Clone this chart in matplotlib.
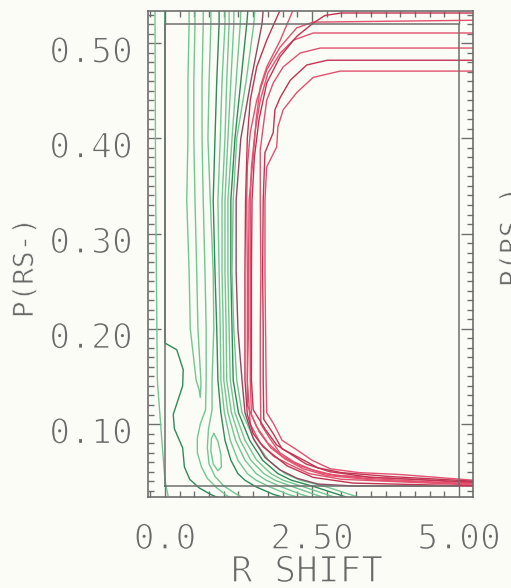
import matplotlib
matplotlib.use("Agg")
import matplotlib.pyplot as plt
import matplotlib.patheffects as pe
from matplotlib.ticker import MultipleLocator, FixedLocator
from matplotlib.transforms import ScaledTranslation

# axis ticks and labels
x_ticks = [0.0, 2.5, 5.0]
x_tick_labels = ["0.0", "2.50", "5.00"]
y_ticks = [0.10, 0.20, 0.30, 0.40, 0.50]
y_tick_labels = ["0.10", "0.20", "0.30", "0.40", "0.50"]

# data window (inner box)
x_min, x_max = 0.0, 5.0
y_min, y_max = 0.035, 0.52

# green contours, upper (nearly vertical) part, read at these P levels
upper_y = [0.535, 0.52, 0.46, 0.40, 0.335, 0.26, 0.20, 0.146]
g1_x = [0.41, 0.41, 0.39, 0.39, 0.37, 0.41, 0.43, 0.53]
g2_x = [0.51, 0.51, 0.49, 0.49, 0.51, 0.54, 0.56, 0.61]
g3_x = [0.65, 0.65, 0.63, 0.63, 0.65, 0.68, 0.70, 0.70]
g4_x = [0.78, 0.78, 0.75, 0.73, 0.77, 0.82, 0.83, 0.80]
g5_x = [0.92, 0.92, 0.88, 0.85, 0.82, 0.85, 0.88, 0.90]
g6_x = [1.02, 1.02, 0.97, 0.94, 0.90, 0.92, 0.94, 0.95]
g7_x = [1.09, 1.09, 1.05, 1.02, 0.97, 0.97, 0.99, 1.00]
g8_x = [1.17, 1.17, 1.12, 1.07, 1.02, 1.02, 1.04, 1.05]
g9_x = [1.29, 1.28, 1.21, 1.14, 1.07, 1.07, 1.09, 1.11]
g10_x = [1.41, 1.39, 1.29, 1.19, 1.12, 1.12, 1.14, 1.16]
g11_x = [1.53, 1.51, 1.38, 1.22, 1.16, 1.14, 1.17, 1.22]
mid_x = [1.67, 1.65, 1.46, 1.29, 1.21, 1.21, 1.24, 1.31]

# green bundle, lower part, read at these P levels
lower_y = [0.112, 0.083, 0.062, 0.048, 0.041, 0.034, 0.026, 0.020]
g5_low = [0.95, 1.02, 1.12, 1.24, 1.36, 1.55, 1.85, 2.20]
g6_low = [1.01, 1.11, 1.24, 1.40, 1.55, 1.78, 2.10, 2.45]
g7_low = [1.07, 1.20, 1.36, 1.55, 1.72, 1.98, 2.32, 2.65]
g8_low = [1.13, 1.28, 1.46, 1.68, 1.87, 2.18, 2.55, 2.85]
g9_low = [1.19, 1.36, 1.56, 1.80, 2.01, 2.36, 2.75, 3.05]
g10_low = [1.25, 1.44, 1.66, 1.92, 2.15, 2.55, 2.95, 3.25]
g11_low = [1.31, 1.52, 1.76, 2.04, 2.30, 2.75, 3.15, 3.45]

# other green pieces (x, y)
g1_tip_x = [0.58, 0.60, 0.61]
g1_tip_y = [0.136, 0.128, 0.140]
g3_low_x = [0.69, 0.60, 0.55, 0.55, 0.62, 0.72, 0.88, 1.05, 1.25]
g3_low_y = [0.115, 0.100, 0.085, 0.070, 0.055, 0.043, 0.033, 0.025, 0.018]
g4_low_x = [0.80, 0.74, 0.72, 0.75, 0.85, 1.00, 1.20, 1.40]
g4_low_y = [0.115, 0.095, 0.075, 0.058, 0.045, 0.035, 0.027, 0.020]
g0_x = [0.0, 0.0, 0.20, 0.31, 0.30, 0.14, 0.16, 0.30, 0.33, 0.42, 0.58, 0.78, 1.00]
g0_y = [0.535, 0.185, 0.178, 0.157, 0.140, 0.110, 0.095, 0.075, 0.055, 0.042, 0.033, 0.026, 0.020]
edge_x = [-0.17, -0.16, -0.13, -0.05, 0.0, 0.05]
edge_y = [0.535, 0.35, 0.146, 0.080, 0.041, 0.025]
island_x = [0.83, 0.90, 0.95, 0.96, 0.90, 0.82, 0.78, 0.79, 0.83]
island_y = [0.090, 0.082, 0.068, 0.055, 0.051, 0.058, 0.072, 0.085, 0.090]
mid_low_x = [1.36, 1.50, 1.70, 1.95, 2.25, 2.60, 3.20, 5.25]
mid_low_y = [0.112, 0.085, 0.065, 0.052, 0.043, 0.037, 0.035, 0.035]

# red contours (x, y)
ra_x = [5.25, 2.98, 2.52, 2.24, 2.01, 1.92, 1.90, 1.73, 1.70, 1.70, 1.71, 1.72, 1.73, 1.85, 1.99, 2.24, 2.50, 2.81, 3.30, 4.00, 5.25]
ra_y = [0.4706, 0.4706, 0.464, 0.448, 0.430, 0.412, 0.391, 0.370, 0.335, 0.26, 0.20, 0.146, 0.112, 0.100, 0.083, 0.073, 0.062, 0.053, 0.049, 0.047, 0.041]
rb_x = [5.25, 2.76, 2.41, 2.13, 1.96, 1.87, 1.84, 1.70, 1.67, 1.66, 1.67, 1.67, 1.68, 1.84, 1.99, 2.30, 2.60, 3.00, 3.80, 5.25]
rb_y = [0.482, 0.482, 0.477, 0.461, 0.443, 0.430, 0.406, 0.385, 0.335, 0.26, 0.20, 0.146, 0.105, 0.090, 0.074, 0.064, 0.054, 0.049, 0.045, 0.040]
rc_x = [5.25, 2.64, 2.30, 2.01, 1.84, 1.73, 1.67, 1.62, 1.62, 1.63, 1.62, 1.62, 1.63, 1.78, 1.95, 2.20, 2.50, 2.90, 4.20, 5.25]
rc_y = [0.4948, 0.4948, 0.4896, 0.475, 0.458, 0.440, 0.412, 0.388, 0.335, 0.26, 0.20, 0.146, 0.100, 0.085, 0.070, 0.060, 0.052, 0.046, 0.042, 0.038]
rd_x = [5.25, 2.52, 2.18, 1.96, 1.75, 1.62, 1.53, 1.47, 1.45, 1.45, 1.45, 1.45, 1.47, 1.60, 1.80, 2.05, 2.35, 2.75, 3.60, 5.25]
rd_y = [0.5106, 0.5106, 0.503, 0.4895, 0.4686, 0.440, 0.406, 0.370, 0.335, 0.26, 0.20, 0.146, 0.110, 0.092, 0.075, 0.063, 0.053, 0.046, 0.041, 0.037]
re_x = [5.25, 2.52, 2.24, 1.96, 1.73, 1.56, 1.45, 1.40, 1.39, 1.40, 1.40, 1.40, 1.45, 1.62, 1.85, 2.10, 2.45, 3.00, 5.25]
re_y = [0.524, 0.522, 0.516, 0.496, 0.472, 0.440, 0.406, 0.370, 0.335, 0.26, 0.20, 0.146, 0.100, 0.080, 0.066, 0.058, 0.048, 0.042, 0.036]
rf_x = [5.25, 3.00, 2.72, 2.52, 2.24, 1.96, 1.73, 1.60, 1.52, 1.48, 1.47, 1.47, 1.47, 1.50, 1.70, 1.90, 2.15, 2.40, 2.80, 3.50, 5.25]
rf_y = [0.5316, 0.5316, 0.529, 0.521, 0.507, 0.486, 0.458, 0.420, 0.380, 0.335, 0.26, 0.20, 0.146, 0.115, 0.095, 0.078, 0.068, 0.058, 0.050, 0.044, 0.039]
rg_x = [2.18, 1.96, 1.73, 1.62, 1.55, 1.50, 1.43, 1.42, 1.42, 1.40, 1.40, 1.55, 1.75, 2.00, 2.30, 2.70, 3.40, 5.25]
rg_y = [0.535, 0.503, 0.475, 0.454, 0.420, 0.380, 0.335, 0.26, 0.20, 0.146, 0.120, 0.098, 0.080, 0.066, 0.056, 0.048, 0.043, 0.037]
rh_x = [1.96, 1.73, 1.56, 1.45, 1.40, 1.37, 1.36, 1.36, 1.36, 1.40, 1.50, 1.67, 2.08, 2.52, 3.20, 5.25]
rh_y = [0.535, 0.503, 0.475, 0.440, 0.400, 0.335, 0.26, 0.20, 0.146, 0.110, 0.090, 0.076, 0.056, 0.044, 0.038, 0.035]

bg = "#fcfcf7"
light_green = "#72c690"
dark_green = "#2f8a58"
red = "#e2506e"
dark_red = "#c23352"
maroon = "#8e4a62"
frame = "#6e6e6e"
text_col = "#6a6a6a"
# erode the glyphs a little so they look like pen strokes
thin_big = [pe.Stroke(linewidth=1.0, foreground=bg)]
thin_small = [pe.Stroke(linewidth=0.5, foreground=bg)]

fig = plt.figure(figsize=(5.11, 5.88), dpi=100, facecolor=bg)
ax = fig.add_axes([148 / 511, 1 - 497 / 588, 325 / 511, 486 / 588])
ax.set_facecolor(bg)
ax.set_xlim(-0.289, 5.238)
ax.set_ylim(0.0234, 0.5337)

lw = 1.0
# green lines
ax.plot(edge_x, edge_y, color=light_green, lw=lw)
ax.plot(g0_x, g0_y, color=dark_green, lw=lw)
ax.plot(g1_x + g1_tip_x + g2_x[::-1], upper_y + g1_tip_y + upper_y[::-1], color=light_green, lw=lw)
ax.plot(g3_x + g3_low_x, upper_y + g3_low_y, color=light_green, lw=lw)
ax.plot(g4_x + g4_low_x, upper_y + g4_low_y, color=light_green, lw=lw)
ax.plot(island_x, island_y, color=light_green, lw=lw)
for ux, lx, c in [(g5_x, g5_low, dark_green), (g6_x, g6_low, light_green),
                  (g7_x, g7_low, light_green), (g8_x, g8_low, light_green),
                  (g9_x, g9_low, light_green), (g10_x, g10_low, dark_green),
                  (g11_x, g11_low, light_green)]:
    ax.plot(ux + lx, upper_y + lower_y, color=c, lw=lw)
ax.plot(mid_x + mid_low_x, upper_y + mid_low_y, color=maroon, lw=lw)

# red lines
for rx, ry, c in [(ra_x, ra_y, red), (rb_x, rb_y, dark_red), (rc_x, rc_y, red),
                  (rd_x, rd_y, red), (re_x, re_y, red), (rf_x, rf_y, dark_red),
                  (rg_x, rg_y, red), (rh_x, rh_y, dark_red)]:
    ax.plot(rx, ry, color=c, lw=lw)

# inner box
ax.plot([x_min, x_max, x_max, x_min, x_min], [y_min, y_min, y_max, y_max, y_min],
        color=frame, lw=1.1)

for s in ax.spines.values():
    s.set_color(frame)
    s.set_linewidth(1.2)

ax.xaxis.set_major_locator(FixedLocator(x_ticks))
ax.xaxis.set_minor_locator(MultipleLocator(0.25))
ax.yaxis.set_major_locator(FixedLocator(y_ticks))
ax.yaxis.set_minor_locator(MultipleLocator(0.01))
ax.set_xticklabels(x_tick_labels)
ax.set_yticklabels(y_tick_labels)
ax.tick_params(which="both", direction="in", top=True, right=True, color=frame, width=1.0)
ax.tick_params(which="major", length=9)
ax.tick_params(which="minor", length=4.5)
ax.tick_params(axis="x", which="major", pad=18, labelsize=25, labelcolor=text_col)
ax.tick_params(axis="y", which="major", pad=11, labelsize=25, labelcolor=text_col)
for lab in ax.get_xticklabels() + ax.get_yticklabels():
    lab.set_family("DejaVu Sans Mono")
    lab.set_path_effects(thin_big)
for lab in ax.get_yticklabels():
    lab.set_transform(lab.get_transform() + ScaledTranslation(0, -0.06, fig.dpi_scale_trans))

fig.text(307 / 511, 1 - 582 / 588, "R SHIFT", ha="center", va="baseline",
         fontsize=26, color=text_col, family="DejaVu Sans Mono", path_effects=thin_big)
fig.text(25 / 511, 1 - 268 / 588, "P(RS-)", rotation=90, ha="center", va="center",
         fontsize=20, color=text_col, family="DejaVu Sans Mono", path_effects=thin_small)
fig.text(512 / 511, 1 - 237 / 588, "P(RS-)", rotation=90, ha="center", va="center",
         fontsize=20, color=text_col, family="DejaVu Sans Mono", path_effects=thin_small)

fig.savefig("out.png", dpi=100, facecolor=fig.get_facecolor())
